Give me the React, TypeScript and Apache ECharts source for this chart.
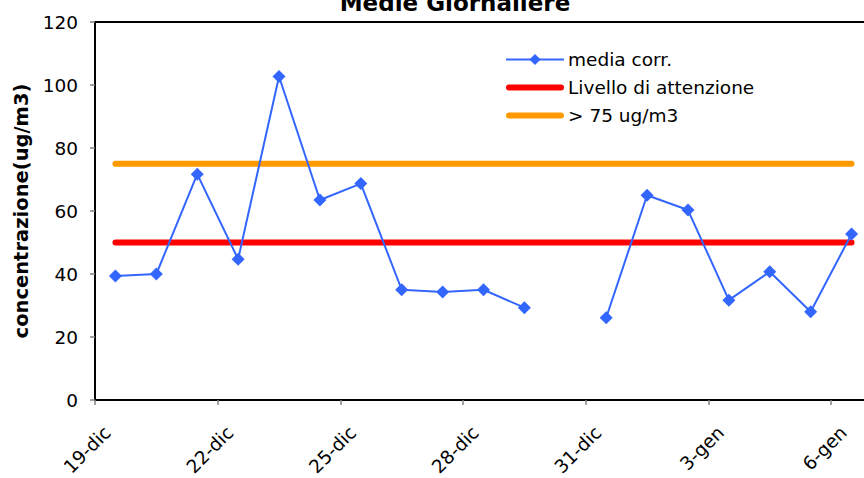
import React, { useEffect, useRef } from "react";
import * as echarts from "echarts";

const title = "Medie Giornaliere";
const yAxisName = "concentrazione(ug/m3)";
const categories = [
  "19-dic", "20-dic", "21-dic", "22-dic", "23-dic", "24-dic", "25-dic",
  "26-dic", "27-dic", "28-dic", "29-dic", "30-dic", "31-dic",
  "1-gen", "2-gen", "3-gen", "4-gen", "5-gen", "6-gen",
];
const mediaCorr: (number | null)[] = [
  39.4, 40.0, 71.7, 44.7, 102.7, 63.5, 68.7, 35.0, 34.3, 35.0, 29.3, null,
  26.1, 65.0, 60.3, 31.7, 40.7, 28.0, 52.7,
];
const livelloAttenzione = 50;
const soglia75 = 75;
const seriesNames = ["media corr.", "Livello di attenzione", "> 75 ug/m3"];

const FONT = '"DejaVu Sans", sans-serif';
const BAR_ICON = "path://M3,0 L55,0 A3,3 0 0 1 55,6 L3,6 A3,3 0 0 1 3,0 Z";

export default function App() {
  const ref = useRef<HTMLDivElement>(null);
  useEffect(() => {
    document.body.style.margin = "0";
    const chart = echarts.init(ref.current!, null, { renderer: "svg" });
    const mediaData = mediaCorr.map((v, i) => [i + 0.5, v]);
    const line50 = categories.map((_, i) => [i + 0.5, livelloAttenzione]);
    const line75 = categories.map((_, i) => [i + 0.5, soglia75]);
    chart.setOption({
      animation: false,
      backgroundColor: "#fff",
      textStyle: { fontFamily: FONT },
      title: {
        text: title,
        left: 450,
        textAlign: "center",
        top: -14,
        textStyle: { fontFamily: FONT, fontWeight: "bold", fontSize: 23, color: "#000" },
      },
      legend: {
        orient: "vertical",
        left: 505,
        top: 50,
        padding: 0,
        itemWidth: 58,
        itemHeight: 14,
        itemGap: 9,
        textStyle: { fontFamily: FONT, fontSize: 18.5, color: "#000", padding: [0, 0, 0, -1] },
        data: [
          { name: seriesNames[0] },
          { name: seriesNames[1], icon: BAR_ICON },
          { name: seriesNames[2], icon: BAR_ICON },
        ],
      },
      grid: {
        left: 95,
        top: 22,
        width: 777,
        height: 378,
        outerBoundsMode: "none",
        containLabel: false,
        show: true,
        borderColor: "#000",
        borderWidth: 2,
        backgroundColor: "transparent",
      },
      xAxis: {
        type: "value",
        min: 0,
        max: categories.length,
        interval: 3,
        splitLine: { show: false },
        axisLine: { show: true, lineStyle: { color: "#000", width: 2 } },
        axisTick: { show: true, length: 5, lineStyle: { color: "#808080", width: 1.5 } },
        axisLabel: {
          rotate: 45,
          margin: 17,
          verticalAlign: "top",
          padding: [8, 0, 0, 0],
          showMaxLabel: false,
          fontFamily: FONT,
          fontSize: 18.5,
          color: "#000",
          formatter: (v: number) => categories[v] ?? "",
        },
      },
      yAxis: {
        type: "value",
        min: 0,
        max: 120,
        interval: 20,
        name: yAxisName,
        nameLocation: "middle",
        nameGap: 63,
        nameTextStyle: { fontFamily: FONT, fontWeight: "bold", fontSize: 19.5, color: "#000" },
        splitLine: { show: false },
        axisLine: { show: true, lineStyle: { color: "#000", width: 2 } },
        axisTick: { show: true, length: 5, lineStyle: { color: "#808080", width: 1.5 } },
        axisLabel: { margin: 17, fontFamily: FONT, fontSize: 18.5, color: "#000" },
      },
      series: [
        {
          name: seriesNames[0],
          type: "line",
          data: mediaData,
          connectNulls: false,
          symbol: "diamond",
          symbolSize: 13,
          lineStyle: { color: "#3366FF", width: 2 },
          itemStyle: { color: "#3366FF" },
          z: 5,
        },
        {
          name: seriesNames[1],
          type: "line",
          data: line50,
          symbol: "none",
          lineStyle: { color: "#FF0000", width: 6, cap: "round" },
          itemStyle: { color: "#FF0000" },
          z: 3,
        },
        {
          name: seriesNames[2],
          type: "line",
          data: line75,
          symbol: "none",
          lineStyle: { color: "#FF9900", width: 6, cap: "round" },
          itemStyle: { color: "#FF9900" },
          z: 3,
        },
      ],
    });
    return () => chart.dispose();
  }, []);
  return <div ref={ref} style={{ width: 864, height: 478 }} />;
}
